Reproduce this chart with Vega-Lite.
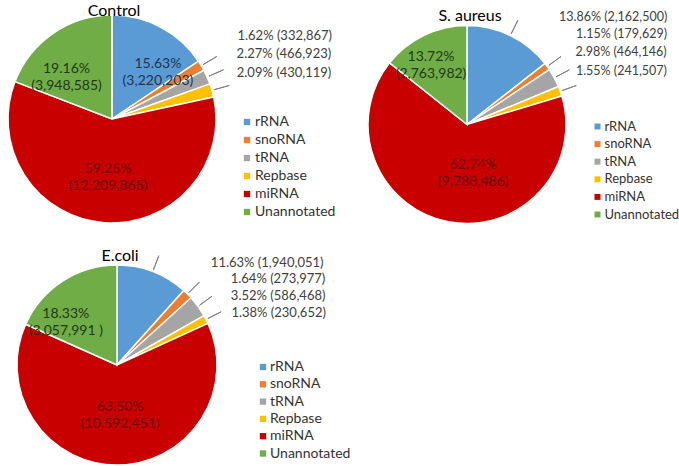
{
  "$schema": "https://vega.github.io/schema/vega-lite/v6.json",
  "padding": {"left": 5, "top": 3, "right": 0, "bottom": 0},
  "config": {"view": {"stroke": null}, "font": "Lato", "text": {"font": "Lato", "fontSize": 13, "color": "#404040"}},
  "datasets": {
    "rna": [
      {"sample": "Control", "type": "rRNA", "pct": 15.63, "count": "3,220,203"},
      {"sample": "Control", "type": "snoRNA", "pct": 1.62, "count": "332,867"},
      {"sample": "Control", "type": "tRNA", "pct": 2.27, "count": "466,923"},
      {"sample": "Control", "type": "Repbase", "pct": 2.09, "count": "430,119"},
      {"sample": "Control", "type": "miRNA", "pct": 59.25, "count": "12,209,865"},
      {"sample": "Control", "type": "Unannotated", "pct": 19.16, "count": "3,948,585"},
      {"sample": "S. aureus", "type": "rRNA", "pct": 13.86, "count": "2,162,500"},
      {"sample": "S. aureus", "type": "snoRNA", "pct": 1.15, "count": "179,629"},
      {"sample": "S. aureus", "type": "tRNA", "pct": 2.98, "count": "464,146"},
      {"sample": "S. aureus", "type": "Repbase", "pct": 1.55, "count": "241,507"},
      {"sample": "S. aureus", "type": "miRNA", "pct": 62.74, "count": "9,788,486"},
      {"sample": "S. aureus", "type": "Unannotated", "pct": 13.72, "count": "2,763,982"},
      {"sample": "E.coli", "type": "rRNA", "pct": 11.63, "count": "1,940,051"},
      {"sample": "E.coli", "type": "snoRNA", "pct": 1.64, "count": "273,977"},
      {"sample": "E.coli", "type": "tRNA", "pct": 3.52, "count": "586,468"},
      {"sample": "E.coli", "type": "Repbase", "pct": 1.38, "count": "230,652"},
      {"sample": "E.coli", "type": "miRNA", "pct": 63.50, "count": "10,592,451"},
      {"sample": "E.coli", "type": "Unannotated", "pct": 18.33, "count": "3,057,991 "}
    ]
  },
  "bounds": "flush",
  "columns": 2,
  "spacing": {"row": 31, "column": 142},
  "resolve": {"scale": {"color": "independent"}, "legend": {"color": "independent"}},
  "concat": [
    {
      "width": 208, "height": 208,
      "title": {"text": "Control", "frame": "group", "fontSize": 16, "font": "Lato", "fontWeight": "normal", "color": "#000000", "baseline": "alphabetic", "offset": -20, "dx": 2},
      "data": {"name": "rna"},
      "transform": [
        {"filter": "datum.sample === 'Control'"},
        {"calculate": "indexof(['rRNA','snoRNA','tRNA','Repbase','miRNA','Unannotated'], datum.type)", "as": "ord"},
        {"stack": "pct", "groupby": [], "sort": [{"field": "ord", "order": "ascending"}], "as": ["t0", "t1"]},
        {"calculate": "(datum.t0 + datum.t1) / 2", "as": "tmid"},
        {"calculate": "[format(datum.pct, '.2f') + '%', '(' + datum.count + ')']", "as": "inLabel"},
        {"calculate": "format(datum.pct, '.2f') + '% (' + datum.count + ')'", "as": "outLabel"}
      ],
      "layer": [
        {
          "mark": {"type": "arc", "stroke": "white", "strokeWidth": 1.5},
          "encoding": {
            "theta": {"field": "t1", "type": "quantitative"},
            "theta2": {"field": "t0"},
            "color": {"field": "type", "type": "nominal",
              "scale": {"domain": ["rRNA", "snoRNA", "tRNA", "Repbase", "miRNA", "Unannotated"], "range": ["#5B9BD5", "#ED7D31", "#A5A5A5", "#FFC000", "#C80000", "#70AD47"]},
              "legend": {"orient": "none", "legendX": 232, "legendY": 100, "title": null, "symbolType": "square", "symbolSize": 40, "symbolStrokeWidth": 0, "labelFont": "Lato", "labelFontSize": 14, "labelColor": "#333333", "rowPadding": 4, "labelOffset": 1}}
          }
        },
        {"transform": [{"filter": "indexof(['snoRNA','tRNA','Repbase'], datum.type) >= 0"}],
         "mark": {"type": "arc", "radius": 122, "radius2": 106, "fill": null, "stroke": "#7f7f7f", "strokeWidth": 1},
         "encoding": {"theta": {"field": "tmid", "type": "quantitative"}, "theta2": {"field": "tmid"}}},
        {"transform": [{"filter": "datum.type === 'rRNA'"}],
         "mark": {"type": "text", "radius": 72, "dx": 12, "dy": 8, "lineHeight": 17, "fontSize": 14, "color": "#1c3554"},
         "encoding": {"theta": {"field": "tmid", "type": "quantitative"}, "text": {"field": "inLabel"}}},
        {"transform": [{"filter": "datum.type === 'Unannotated'"}],
         "mark": {"type": "text", "radius": 68, "dx": -7, "dy": 6, "lineHeight": 17, "fontSize": 14, "color": "#1f3a12"},
         "encoding": {"theta": {"field": "tmid", "type": "quantitative"}, "text": {"field": "inLabel"}}},
        {"transform": [{"filter": "datum.type === 'miRNA'"}],
         "mark": {"type": "text", "radius": 50, "dx": 0, "dy": 0, "lineHeight": 17, "fontSize": 14, "color": "#6a0000"},
         "encoding": {"theta": {"field": "tmid", "type": "quantitative"}, "text": {"field": "inLabel"}}},
        {"transform": [{"filter": "datum.type === 'snoRNA'"}],
         "mark": {"type": "text", "radius": 110, "dx": 31, "dy": -27, "align": "left", "baseline": "middle"},
         "encoding": {"theta": {"field": "tmid", "type": "quantitative"}, "text": {"field": "outLabel"}}},
        {"transform": [{"filter": "datum.type === 'tRNA'"}],
         "mark": {"type": "text", "radius": 110, "dx": 24, "dy": -21, "align": "left", "baseline": "middle"},
         "encoding": {"theta": {"field": "tmid", "type": "quantitative"}, "text": {"field": "outLabel"}}},
        {"transform": [{"filter": "datum.type === 'Repbase'"}],
         "mark": {"type": "text", "radius": 110, "dx": 19, "dy": -16, "align": "left", "baseline": "middle"},
         "encoding": {"theta": {"field": "tmid", "type": "quantitative"}, "text": {"field": "outLabel"}}}
      ]
    },
    {
      "width": 198, "height": 219,
      "title": {"text": "S. aureus", "frame": "group", "fontSize": 16, "font": "Lato", "fontWeight": "normal", "color": "#000000", "baseline": "alphabetic", "offset": -26, "dx": 3},
      "data": {"name": "rna"},
      "transform": [
        {"filter": "datum.sample === 'S. aureus'"},
        {"calculate": "indexof(['rRNA','snoRNA','tRNA','Repbase','miRNA','Unannotated'], datum.type)", "as": "ord"},
        {"stack": "pct", "groupby": [], "sort": [{"field": "ord", "order": "ascending"}], "as": ["t0", "t1"]},
        {"calculate": "(datum.t0 + datum.t1) / 2", "as": "tmid"},
        {"calculate": "[format(datum.pct, '.2f') + '%', '(' + datum.count + ')']", "as": "inLabel"},
        {"calculate": "format(datum.pct, '.2f') + '% (' + datum.count + ')'", "as": "outLabel"}
      ],
      "layer": [
        {
          "mark": {"type": "arc", "stroke": "white", "strokeWidth": 1.5},
          "encoding": {
            "theta": {"field": "t1", "type": "quantitative"},
            "theta2": {"field": "t0"},
            "color": {"field": "type", "type": "nominal",
              "scale": {"domain": ["rRNA", "snoRNA", "tRNA", "Repbase", "miRNA", "Unannotated"], "range": ["#5B9BD5", "#ED7D31", "#A5A5A5", "#FFC000", "#C80000", "#70AD47"]},
              "legend": {"orient": "none", "legendX": 223, "legendY": 105, "title": null, "symbolType": "square", "symbolSize": 36, "symbolStrokeWidth": 0, "labelFont": "Lato", "labelFontSize": 13, "labelColor": "#333333", "rowPadding": 3.6, "labelOffset": 0.5}}
          }
        },
        {"transform": [{"filter": "indexof(['rRNA','snoRNA','tRNA','Repbase'], datum.type) >= 0"}],
         "mark": {"type": "arc", "radius": 116, "radius2": 101, "fill": null, "stroke": "#7f7f7f", "strokeWidth": 1},
         "encoding": {"theta": {"field": "tmid", "type": "quantitative"}, "theta2": {"field": "tmid"}}},
        {"transform": [{"filter": "datum.type === 'Unannotated'"}],
         "mark": {"type": "text", "radius": 76, "dx": -3, "dy": 1, "lineHeight": 17, "fontSize": 14, "color": "#1f3a12"},
         "encoding": {"theta": {"field": "tmid", "type": "quantitative"}, "text": {"field": "inLabel"}}},
        {"transform": [{"filter": "datum.type === 'miRNA'"}],
         "mark": {"type": "text", "radius": 41, "dx": 14, "dy": 0, "lineHeight": 17, "fontSize": 14, "color": "#6a0000"},
         "encoding": {"theta": {"field": "tmid", "type": "quantitative"}, "text": {"field": "inLabel"}}},
        {"transform": [{"filter": "datum.type === 'rRNA'"}],
         "mark": {"type": "text", "radius": 105, "dx": 46, "dy": -13, "align": "left", "baseline": "middle", "fontSize": 12.5},
         "encoding": {"theta": {"field": "tmid", "type": "quantitative"}, "text": {"field": "outLabel"}}},
        {"transform": [{"filter": "datum.type === 'snoRNA'"}],
         "mark": {"type": "text", "radius": 105, "dx": 24, "dy": -29, "align": "left", "baseline": "middle", "fontSize": 12.5},
         "encoding": {"theta": {"field": "tmid", "type": "quantitative"}, "text": {"field": "outLabel"}}},
        {"transform": [{"filter": "datum.type === 'tRNA'"}],
         "mark": {"type": "text", "radius": 105, "dx": 16, "dy": -23, "align": "left", "baseline": "middle", "fontSize": 12.5},
         "encoding": {"theta": {"field": "tmid", "type": "quantitative"}, "text": {"field": "outLabel"}}},
        {"transform": [{"filter": "datum.type === 'Repbase'"}],
         "mark": {"type": "text", "radius": 105, "dx": 10, "dy": -18, "align": "left", "baseline": "middle", "fontSize": 12.5},
         "encoding": {"theta": {"field": "tmid", "type": "quantitative"}, "text": {"field": "outLabel"}}}
      ]
    },
    {
      "width": 218, "height": 200,
      "title": {"text": "E.coli", "frame": "group", "fontSize": 16, "font": "Lato", "fontWeight": "normal", "color": "#000000", "baseline": "alphabetic", "offset": -23, "dx": 3},
      "data": {"name": "rna"},
      "transform": [
        {"filter": "datum.sample === 'E.coli'"},
        {"calculate": "indexof(['rRNA','snoRNA','tRNA','Repbase','miRNA','Unannotated'], datum.type)", "as": "ord"},
        {"stack": "pct", "groupby": [], "sort": [{"field": "ord", "order": "ascending"}], "as": ["t0", "t1"]},
        {"calculate": "(datum.t0 + datum.t1) / 2", "as": "tmid"},
        {"calculate": "[format(datum.pct, '.2f') + '%', '(' + datum.count + ')']", "as": "inLabel"},
        {"calculate": "format(datum.pct, '.2f') + '% (' + datum.count + ')'", "as": "outLabel"}
      ],
      "layer": [
        {
          "mark": {"type": "arc", "stroke": "white", "strokeWidth": 1.5},
          "encoding": {
            "theta": {"field": "t1", "type": "quantitative"},
            "theta2": {"field": "t0"},
            "color": {"field": "type", "type": "nominal",
              "scale": {"domain": ["rRNA", "snoRNA", "tRNA", "Repbase", "miRNA", "Unannotated"], "range": ["#5B9BD5", "#ED7D31", "#A5A5A5", "#FFC000", "#C80000", "#70AD47"]},
              "legend": {"orient": "none", "legendX": 248, "legendY": 95, "title": null, "symbolType": "square", "symbolSize": 40, "symbolStrokeWidth": 0, "labelFont": "Lato", "labelFontSize": 14, "labelColor": "#333333", "rowPadding": 3.3, "labelOffset": 0}}
          }
        },
        {"transform": [{"filter": "indexof(['rRNA','snoRNA','tRNA','Repbase'], datum.type) >= 0"}],
         "mark": {"type": "arc", "radius": 117, "radius2": 102, "fill": null, "stroke": "#7f7f7f", "strokeWidth": 1},
         "encoding": {"theta": {"field": "tmid", "type": "quantitative"}, "theta2": {"field": "tmid"}}},
        {"transform": [{"filter": "datum.type === 'Unannotated'"}],
         "mark": {"type": "text", "radius": 72, "dx": -12, "dy": 9, "lineHeight": 17, "fontSize": 14, "color": "#1f3a12"},
         "encoding": {"theta": {"field": "tmid", "type": "quantitative"}, "text": {"field": "inLabel"}}},
        {"transform": [{"filter": "datum.type === 'miRNA'"}],
         "mark": {"type": "text", "radius": 42, "dx": 3, "dy": 0, "lineHeight": 17, "fontSize": 14, "color": "#6a0000"},
         "encoding": {"theta": {"field": "tmid", "type": "quantitative"}, "text": {"field": "inLabel"}}},
        {"transform": [{"filter": "datum.type === 'rRNA'"}],
         "mark": {"type": "text", "radius": 106, "dx": 56, "dy": -3, "align": "left", "baseline": "middle"},
         "encoding": {"theta": {"field": "tmid", "type": "quantitative"}, "text": {"field": "outLabel"}}},
        {"transform": [{"filter": "datum.type === 'snoRNA'"}],
         "mark": {"type": "text", "radius": 106, "dx": 39, "dy": -11, "align": "left", "baseline": "middle"},
         "encoding": {"theta": {"field": "tmid", "type": "quantitative"}, "text": {"field": "outLabel"}}},
        {"transform": [{"filter": "datum.type === 'tRNA'"}],
         "mark": {"type": "text", "radius": 106, "dx": 28, "dy": -7, "align": "left", "baseline": "middle"},
         "encoding": {"theta": {"field": "tmid", "type": "quantitative"}, "text": {"field": "outLabel"}}},
        {"transform": [{"filter": "datum.type === 'Repbase'"}],
         "mark": {"type": "text", "radius": 106, "dx": 20, "dy": -4, "align": "left", "baseline": "middle"},
         "encoding": {"theta": {"field": "tmid", "type": "quantitative"}, "text": {"field": "outLabel"}}}
      ]
    }
  ]
}
